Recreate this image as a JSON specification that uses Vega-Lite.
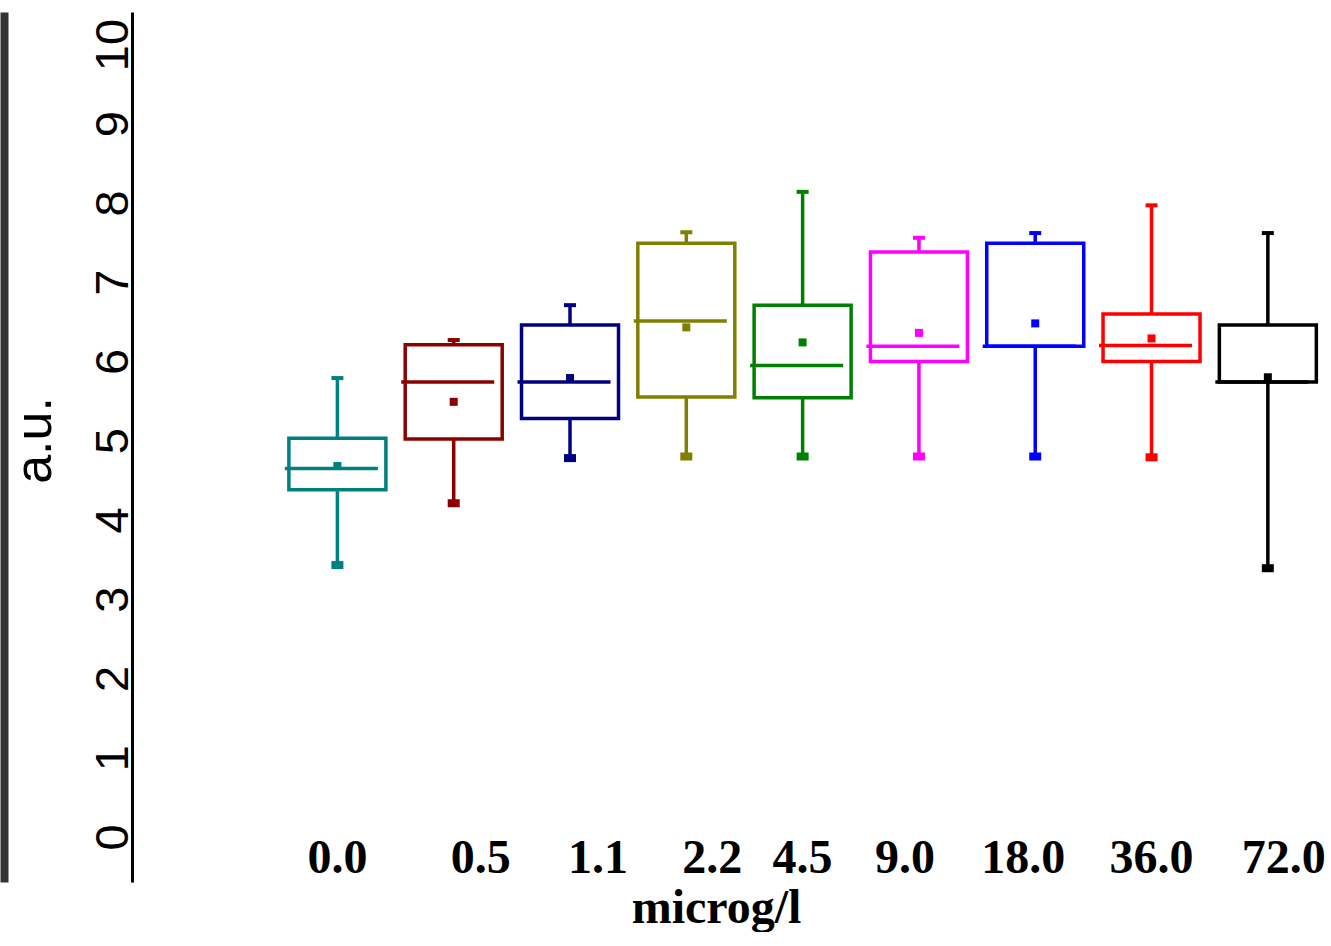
{
  "$schema": "https://vega.github.io/schema/vega-lite/v6.json",
  "width": 1194,
  "height": 870,
  "padding": {"left": 4, "top": 12, "right": 0, "bottom": 0},
  "autosize": {"type": "pad"},
  "background": "white",
  "config": {"view": {"stroke": null}, "axis": {"grid": false}},
  "data": {"values": [
    {"dose": "0.0", "lo": 3.43, "q1": 4.38, "med": 4.65, "mean": 4.68, "q3": 5.03, "hi": 5.79},
    {"dose": "0.5", "lo": 4.21, "q1": 5.02, "med": 5.74, "mean": 5.49, "q3": 6.21, "hi": 6.27},
    {"dose": "1.1", "lo": 4.78, "q1": 5.28, "med": 5.74, "mean": 5.79, "q3": 6.46, "hi": 6.71},
    {"dose": "2.2", "lo": 4.80, "q1": 5.55, "med": 6.51, "mean": 6.43, "q3": 7.49, "hi": 7.63},
    {"dose": "4.5", "lo": 4.80, "q1": 5.54, "med": 5.95, "mean": 6.24, "q3": 6.71, "hi": 8.14},
    {"dose": "9.0", "lo": 4.80, "q1": 6.00, "med": 6.19, "mean": 6.36, "q3": 7.38, "hi": 7.56},
    {"dose": "18.0", "lo": 4.80, "q1": 6.19, "med": 6.19, "mean": 6.48, "q3": 7.49, "hi": 7.62},
    {"dose": "36.0", "lo": 4.79, "q1": 6.00, "med": 6.20, "mean": 6.29, "q3": 6.60, "hi": 7.97},
    {"dose": "72.0", "lo": 3.39, "q1": 5.74, "med": 5.74, "mean": 5.80, "q3": 6.46, "hi": 7.62}
  ]},
  "resolve": {"axis": {"y": "independent"}},
  "layer": [
    {
      "mark": {"type": "rule", "strokeWidth": 3.5, "opacity": 1},
      "encoding": {
        "x": {"field": "dose", "type": "nominal",
          "scale": {"domain": ["0.0","0.5","1.1","2.2","4.5","9.0","18.0","36.0","72.0"], "paddingInner": 0, "paddingOuter": 0.633, "align": 1},
          "axis": {"title": "microg/l", "orient": "bottom", "offset": -10, "domain": false, "ticks": false, "labelPadding": 0,
            "labelBaseline": "alphabetic", "labelAngle": 0, "labelFont": "Liberation Serif", "labelFontWeight": "bold", "labelFontSize": 48, "labelColor": "black",
            "titleFont": "Liberation Serif", "titleFontWeight": "bold", "titleFontSize": 48, "titleColor": "black",
            "titleBaseline": "alphabetic", "titleX": 584, "titleY": 50, "titleAnchor": "start", "titleAlign": "center",
            "labelOffset": {"condition": [
              {"test": "datum.value==='0.5'", "value": 27},
              {"test": "datum.value==='1.1'", "value": 28},
              {"test": "datum.value==='2.2'", "value": 26},
              {"test": "datum.value==='9.0'", "value": -14},
              {"test": "datum.value==='18.0'", "value": -12},
              {"test": "datum.value==='72.0'", "value": 16}
            ], "value": 0}}},
        "y": {"field": "lo", "type": "quantitative",
          "scale": {"domain": [-0.57, 10.41], "nice": false, "zero": false},
          "axis": {"title": "a.u.", "orient": "left", "values": [0,1,2,3,4,5,6,7,8,9,10], "domainColor": "black", "domainWidth": 3,
            "ticks": false, "labelPadding": 5, "labelAngle": 270, "labelAlign": "center", "labelBaseline": "alphabetic",
            "labelFont": "Liberation Sans", "labelFontSize": 47, "labelColor": "black", "labelFlush": false, "labelOverlap": false,
            "titleFont": "Liberation Sans", "titleFontSize": 52, "titleFontWeight": "normal", "titleColor": "black",
            "titleAngle": 270, "titleBaseline": "alphabetic", "titleAlign": "center", "titleX": -82, "titleY": 428}},
        "y2": {"field": "hi"},
        "color": {"field": "dose", "type": "nominal", "legend": null,
          "scale": {"domain": ["0.0","0.5","1.1","2.2","4.5","9.0","18.0","36.0","72.0"],
                    "range": ["#008080","#8B0000","#000080","#808000","#008000","#FF00FF","#0000FF","#FF0000","#000000"]}}
      }
    },
    {
      "mark": {"type": "bar", "width": 97, "fill": "white", "strokeWidth": 3.5, "opacity": 1},
      "encoding": {
        "x": {"field": "dose", "type": "nominal"},
        "y": {"field": "q1", "type": "quantitative", "scale": {"domain": [-0.57, 10.41], "nice": false, "zero": false}, "axis": null},
        "y2": {"field": "q3"},
        "stroke": {"field": "dose", "type": "nominal", "legend": null,
          "scale": {"domain": ["0.0","0.5","1.1","2.2","4.5","9.0","18.0","36.0","72.0"],
                    "range": ["#008080","#8B0000","#000080","#808000","#008000","#FF00FF","#0000FF","#FF0000","#000000"]}}
      }
    },
    {
      "mark": {"type": "tick", "size": 93, "thickness": 3.5, "xOffset": -6, "opacity": 1},
      "encoding": {
        "x": {"field": "dose", "type": "nominal"},
        "y": {"field": "med", "type": "quantitative", "scale": {"domain": [-0.57, 10.41], "nice": false, "zero": false}, "axis": null},
        "color": {"field": "dose", "type": "nominal", "legend": null}
      }
    },
    {
      "mark": {"type": "square", "size": 64, "filled": true, "opacity": 1},
      "encoding": {
        "x": {"field": "dose", "type": "nominal"},
        "y": {"field": "mean", "type": "quantitative", "scale": {"domain": [-0.57, 10.41], "nice": false, "zero": false}, "axis": null},
        "color": {"field": "dose", "type": "nominal", "legend": null}
      }
    },
    {
      "mark": {"type": "tick", "size": 12, "thickness": 4, "opacity": 1},
      "encoding": {
        "x": {"field": "dose", "type": "nominal"},
        "y": {"field": "hi", "type": "quantitative", "scale": {"domain": [-0.57, 10.41], "nice": false, "zero": false}, "axis": null},
        "color": {"field": "dose", "type": "nominal", "legend": null}
      }
    },
    {
      "mark": {"type": "tick", "size": 12, "thickness": 8, "opacity": 1},
      "encoding": {
        "x": {"field": "dose", "type": "nominal"},
        "y": {"field": "lo", "type": "quantitative", "scale": {"domain": [-0.57, 10.41], "nice": false, "zero": false},
          "axis": {"orient": "left", "offset": 128, "domainColor": "#333333", "domainWidth": 8, "labels": false, "ticks": false, "title": null, "grid": false}},
        "color": {"field": "dose", "type": "nominal", "legend": null}
      }
    }
  ]
}
